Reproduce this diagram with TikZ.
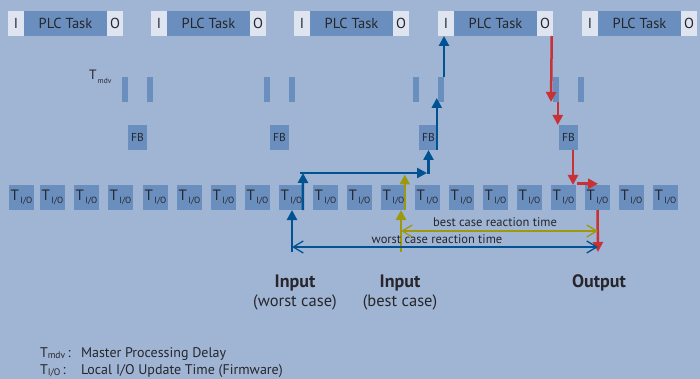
\documentclass[tikz,border=0pt]{standalone}
\usepackage{fontspec}
\setmainfont{PT Sans}
\usetikzlibrary{arrows.meta,calc}
\definecolor{bg}{RGB}{160,181,212}
\definecolor{dboxc}{RGB}{106,143,191}
\definecolor{lboxc}{RGB}{222,229,241}
\definecolor{ablue}{RGB}{0,82,147}
\definecolor{aolive}{RGB}{158,152,12}
\definecolor{ared}{RGB}{200,50,55}
\definecolor{txt}{RGB}{38,38,44}
\begin{document}
\begin{tikzpicture}[x=1pt,y=-1pt,
  every node/.style={inner sep=0pt,outer sep=0pt,text=txt},
  lbx/.style={fill=lboxc,minimum width=16pt,minimum height=25pt,anchor=north west,font=\fontsize{14.5}{16}\selectfont},
  dbx/.style={fill=dboxc,minimum width=83pt,minimum height=25pt,anchor=north west,font=\fontsize{14.5}{16}\selectfont},
  barbox/.style={fill=dboxc,minimum width=6pt,minimum height=25pt,anchor=north west},
  fbbox/.style={fill=dboxc,minimum width=19pt,minimum height=25pt,anchor=north west,font=\fontsize{11.5}{13}\selectfont},
  tiobox/.style={fill=dboxc,minimum width=25pt,minimum height=25pt,anchor=north west,font=\fontsize{15}{17}\selectfont},
  tri/.tip={Triangle[width=10pt,length=10pt]},
  barb/.tip={Straight Barb[length=10pt,width=12pt,line width=1.3pt]},
  blu/.style={draw=ablue,line width=2.5pt},
  oli/.style={draw=aolive,line width=2.5pt},
  rd/.style={draw=ared,line width=2.5pt},
  lbl/.style={font=\fontsize{12.5}{14}\selectfont},
  leg/.style={anchor=base west,font=\fontsize{14}{16}\selectfont},
]
\fill[bg] (0,0) rectangle (700,379);
\useasboundingbox (0,0) rectangle (700,379);
% PLC tasks
\foreach \s [count=\k] in {8,151,294,438,582} {
  \node[lbx] (i\k) at (\s,11) {I};
  \node[dbx] (p\k) at (\s+16,11) {PLC Task};
  \node[lbx] (o\k) at (\s+99,11) {O};
}
% Tmdv bars
\foreach \a/\b [count=\k] in {122/147,264/289,413/438,553/578} {
  \node[barbox] (b\k a) at (\a,77) {};
  \node[barbox] (b\k b) at (\b,77) {};
}
% FB boxes
\foreach \a [count=\k] in {128,270,419,559} {
  \node[fbbox] (fb\k) at (\a,125) {FB};
}
% T I/O boxes
\foreach \a [count=\k] in {9,40,74,108,143,177,211,245,279,313,347,381,415,449,483,517,551,585,619,653} {
  \node[tiobox] (t\k) at (\a,185) {T\raisebox{-3pt}{\fontsize{9}{10}\selectfont\,I/O}};
}
\node[anchor=west,font=\fontsize{13.5}{15}\selectfont] (tmdv) at (89,77) {T\raisebox{-3.5pt}{\fontsize{7.5}{8}\selectfont\,mdv}};

% coordinates
\coordinate (wsIn) at (292,252);
\coordinate (bsIn) at (401,252);
\coordinate (outEnd) at (598,252);
\coordinate (bk1) at (303,173);
\coordinate (bk2) at (427,173);
\coordinate (bk3) at (428.5,174.25);
\coordinate (wsA) at (292,247);
\coordinate (wsB) at (598,247);
\coordinate (bsA) at (401,231);
\coordinate (bsB) at (598,231);

% blue path
\draw[blu,-tri] (wsIn) -- (wsIn |- t9.south);
\draw[blu,-tri] ($(t9.south east)+(-1.25,0)$) -- (bk1);
\draw[blu,-tri] (300,173) -- (bk2);
\draw[blu,-tri] (bk3) -- (bk3 |- fb3.south);
\draw[blu,-tri] ($(fb3.south east)+(-1.25,0)$) -- ($(b3b.south west)+(-1.25,-4)$);
\draw[blu,-tri] (b3b.north east) -- (b3b.north east |- i4.south);
% olive path
\draw[oli,-tri] (bsIn) -- (bsIn |- t12.south);
\draw[oli,-tri] ($(t12.south east)+(-1.25,0)$) -- (404.75,174.5);
% red path
\draw[rd,-tri] ($(o4.south east)+(-1.25,0)$) -- ($(o4.south east |- b4a.south)+(-2,0)$);
\draw[rd,-tri] ($(b4a.south east)+(-1.25,0)$) -- ($(b4a.south east |- fb4.north)+(-1.25,0)$);
\draw[rd,-tri] ($(fb4.south east)+(-5,0)$) -- ($(fb4.south east |- t17.north)+(-5,0)$);
\draw[rd,-tri] ($(t17.north east)+(0.5,-1.25)$) -- ($(t18.north)+(0.5,-1.25)$);
\draw[rd,-tri] (t18.south) -- (outEnd);
% reaction-time arrows
\draw[oli,barb-barb] (bsA) -- (bsB);
\draw[blu,barb-barb] (wsA) -- (wsB);
\node[lbl,anchor=base] (bcl) at (495,226) {best case reaction time};
\node[lbl,anchor=base] (wcl) at (437,243) {worst case reaction time};

% bottom labels
\node[anchor=base,font=\fontsize{18}{20}\bfseries] (in1) at (295,287) {Input};
\node[anchor=base,font=\fontsize{16.5}{18}\selectfont] (in1b) at (295,306) {(worst case)};
\node[anchor=base,font=\fontsize{18}{20}\bfseries] (in2) at (400,287) {Input};
\node[anchor=base,font=\fontsize{16.5}{18}\selectfont] (in2b) at (400,306) {(best case)};
\node[anchor=base,font=\fontsize{18}{20}\bfseries] (outl) at (599,287) {Output};

% legend
\node[leg] (lg1) at (40,357) {T\raisebox{-1.5pt}{\fontsize{9.5}{10}\selectfont mdv}\,:};
\node[leg] (lg1t) at (81,357) {Master Processing Delay};
\node[leg] (lg2) at (40,374) {T\raisebox{-1.5pt}{\fontsize{9.5}{10}\selectfont I/O}\,:};
\node[leg] (lg2t) at (81,374) {Local I/O Update Time (Firmware)};
\end{tikzpicture}
\end{document}
